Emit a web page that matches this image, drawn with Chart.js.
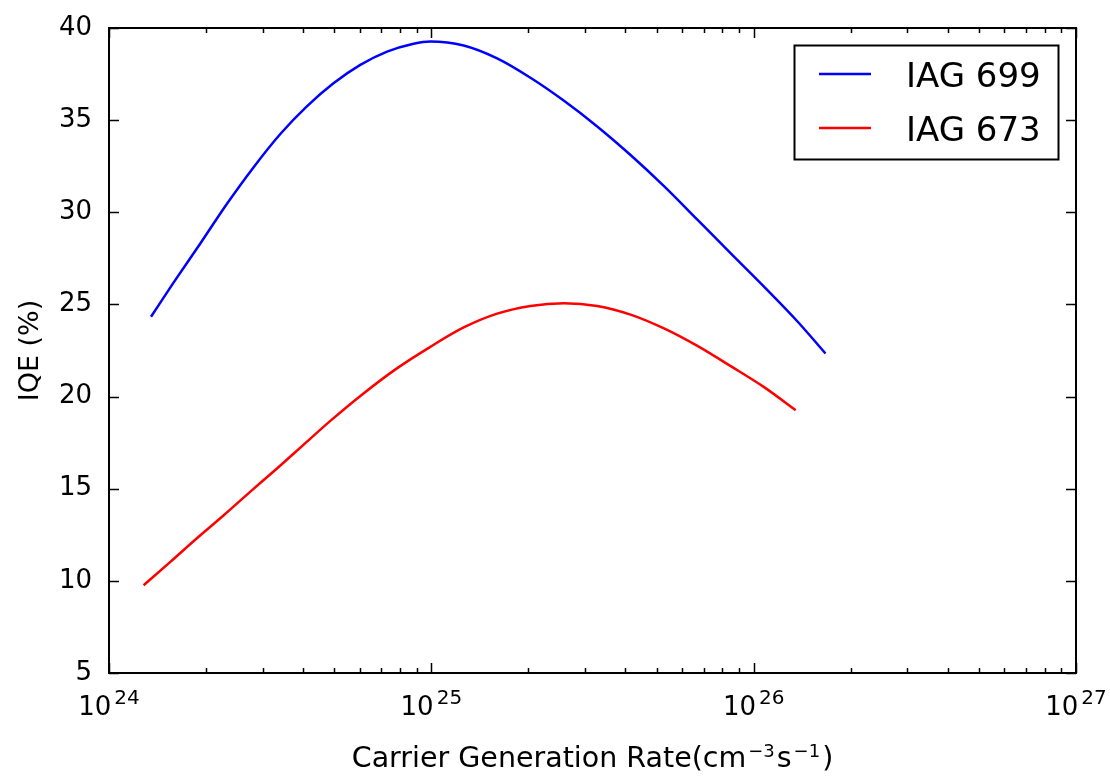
<!DOCTYPE html>
<html>
<head>
<meta charset="utf-8">
<title>IQE vs carrier generation rate</title>
<script src="https://cdn.jsdelivr.net/npm/chart.js@4.4.1/dist/chart.umd.min.js"></script>
<style>
  html, body { margin: 0; padding: 0; background: #fff; }
  #wrap { position: relative; width: 1110px; height: 779px; }
</style>
</head>
<body>
<div id="wrap"><canvas id="iqeChart" width="1110" height="779"></canvas></div>
<script>
// values (x = generation rate, y = IQE %)
const seriesNames = ['IAG 699', 'IAG 673'];
const seriesColors = ['#0000ff', '#ff0000'];

const iag699Rate = [1.35e24, 1.58e24, 1.92e24, 2.32e24, 2.81e24, 3.40e24, 4.11e24, 4.97e24,
    6.02e24, 7.29e24, 8.81e24, 9.93e24, 1.26e25, 1.60e25, 2.03e25, 2.58e25, 3.27e25,
    4.15e25, 5.27e25, 6.69e25, 8.49e25, 1.08e26, 1.37e26, 1.67e26];
const iag699Iqe = [24.33, 26.14, 28.31, 30.45, 32.45, 34.25, 35.75, 37.0,
    38.0, 38.72, 39.15, 39.27, 39.05, 38.35, 37.3, 36.05, 34.66,
    33.11, 31.42, 29.6, 27.77, 25.94, 24.06, 22.34];

const iag673Rate = [1.28e24, 1.55e24, 1.87e24, 2.27e24, 2.74e24, 3.32e24, 4.01e24, 4.86e24,
    6.16e24, 7.82e24, 9.93e24, 1.26e25, 1.60e25, 2.03e25, 2.58e25, 3.27e25, 4.15e25,
    5.27e25, 6.69e25, 8.49e25, 1.08e26, 1.35e26];
const iag673Iqe = [9.76, 11.03, 12.30, 13.56, 14.83, 16.10, 17.38, 18.68,
    20.17, 21.53, 22.70, 23.75, 24.5, 24.92, 25.07, 24.92, 24.45,
    23.7, 22.75, 21.65, 20.5, 19.26];

const xMin = 1e24, xMax = 1e27;
const xDecades = [24, 25, 26, 27];
const yMin = 5, yMax = 40, yStep = 5;

const xTitle = ['Carrier Generation Rate(cm', '\u22123', 's', '\u22121', ')'];
const yTitle = 'IQE (%)';

const FONT = '"DejaVu Sans", sans-serif';

function toPoints(xs, ys) {
    return xs.map((x, i) => ({ x: x, y: ys[i] }));
}

// frame, inward ticks on all four sides, x labels, axis titles, legend
const axesDecor = {
    id: 'axesDecor',
    afterDraw(chart) {
        const ctx = chart.ctx;
        const a = chart.chartArea;
        const xs = chart.scales.x;
        const ys = chart.scales.y;
        ctx.save();
        ctx.strokeStyle = '#000';
        ctx.lineWidth = 1.5;

        // y ticks (left + right)
        ctx.beginPath();
        for (let v = yMin; v <= yMax; v += yStep) {
            const py = Math.round(ys.getPixelForValue(v)) + 0.5;
            ctx.moveTo(a.left, py); ctx.lineTo(a.left + 10, py);
            ctx.moveTo(a.right, py); ctx.lineTo(a.right - 10, py);
        }
        // x ticks, major and minor (bottom + top)
        for (let d = xDecades[0]; d <= xDecades[xDecades.length - 1]; d++) {
            for (let m = 1; m <= 9; m++) {
                const val = m * Math.pow(10, d);
                if (val > xMax) break;
                const px = Math.round(xs.getPixelForValue(val)) + 0.5;
                const len = m === 1 ? 10 : 5;
                ctx.moveTo(px, a.bottom); ctx.lineTo(px, a.bottom - len);
                ctx.moveTo(px, a.top); ctx.lineTo(px, a.top + len);
            }
        }
        ctx.stroke();

        // frame
        ctx.lineWidth = 2;
        ctx.strokeRect(a.left, a.top, a.right - a.left, a.bottom - a.top);

        // x tick labels 10^n
        ctx.fillStyle = '#000';
        ctx.textBaseline = 'alphabetic';
        xDecades.forEach(d => {
            const px = xs.getPixelForValue(Math.pow(10, d));
            ctx.font = '26px ' + FONT;
            const wb = ctx.measureText('10').width;
            ctx.font = '20px ' + FONT;
            const we = ctx.measureText(String(d)).width;
            const x0 = px - (wb + 3 + we) / 2;
            ctx.font = '26px ' + FONT;
            ctx.textAlign = 'left';
            ctx.fillText('10', x0, a.bottom + 42);
            ctx.font = '20px ' + FONT;
            ctx.fillText(String(d), x0 + wb + 3, a.bottom + 31);
        });

        // x axis title with superscripts
        const parts = xTitle.map((t, i) => ({ t: t, sup: i % 2 === 1 }));
        let total = 0;
        parts.forEach(p => {
            ctx.font = (p.sup ? '18px ' : '28.5px ') + FONT;
            p.w = ctx.measureText(p.t).width + (p.sup ? 4 : 0);
            total += p.w;
        });
        let cx = (a.left + a.right) / 2 - total / 2;
        parts.forEach(p => {
            ctx.font = (p.sup ? '18px ' : '28.5px ') + FONT;
            ctx.fillText(p.t, cx + (p.sup ? 2 : 0), p.sup ? 757 : 767);
            cx += p.w;
        });

        // y axis title
        ctx.save();
        ctx.translate(38, (a.top + a.bottom) / 2);
        ctx.rotate(-Math.PI / 2);
        ctx.font = '27px ' + FONT;
        ctx.textAlign = 'center';
        ctx.fillText(yTitle, 0, 0);
        ctx.restore();

        // legend box
        const lx = 794.5, ly = 45.5, lw = 264, lh = 114;
        ctx.fillStyle = '#fff';
        ctx.fillRect(lx, ly, lw, lh);
        ctx.lineWidth = 2;
        ctx.strokeStyle = '#000';
        ctx.strokeRect(lx, ly, lw, lh);
        chart.data.datasets.forEach((ds, i) => {
            const ry = 74 + i * 54;
            ctx.strokeStyle = ds.borderColor;
            ctx.lineWidth = 2.5;
            ctx.beginPath();
            ctx.moveTo(819, ry); ctx.lineTo(871, ry);
            ctx.stroke();
            ctx.fillStyle = '#000';
            ctx.font = '34px ' + FONT;
            ctx.textAlign = 'left';
            ctx.fillText(ds.label, 906, ry + 13);
        });
        ctx.restore();
    }
};

new Chart(document.getElementById('iqeChart'), {
    type: 'scatter',
    data: {
        datasets: [
            {
                label: seriesNames[0],
                data: toPoints(iag699Rate, iag699Iqe),
                borderColor: seriesColors[0],
                backgroundColor: seriesColors[0],
                borderWidth: 2.5,
                showLine: true,
                pointRadius: 0,
                cubicInterpolationMode: 'monotone'
            },
            {
                label: seriesNames[1],
                data: toPoints(iag673Rate, iag673Iqe),
                borderColor: seriesColors[1],
                backgroundColor: seriesColors[1],
                borderWidth: 2.5,
                showLine: true,
                pointRadius: 0,
                cubicInterpolationMode: 'monotone'
            }
        ]
    },
    options: {
        responsive: false,
        animation: false,
        devicePixelRatio: 1,
        layout: { padding: { top: 28, right: 34, left: 0, bottom: 0 } },
        plugins: {
            legend: { display: false },
            tooltip: { enabled: false }
        },
        scales: {
            x: {
                type: 'logarithmic',
                min: xMin,
                max: xMax,
                grid: { display: false },
                border: { display: false },
                ticks: { display: false },
                afterFit(scale) {
                    scale.height = 106;
                    scale.paddingLeft = 0;
                    scale.paddingRight = 0;
                }
            },
            y: {
                min: yMin,
                max: yMax,
                grid: { display: false, drawTicks: false },
                border: { display: false },
                ticks: {
                    stepSize: yStep,
                    padding: 17,
                    color: '#000',
                    font: { family: 'DejaVu Sans', size: 26 }
                },
                afterFit(scale) {
                    scale.width = 109;
                    scale.paddingTop = 0;
                    scale.paddingBottom = 0;
                }
            }
        }
    },
    plugins: [axesDecor]
});
</script>
</body>
</html>
